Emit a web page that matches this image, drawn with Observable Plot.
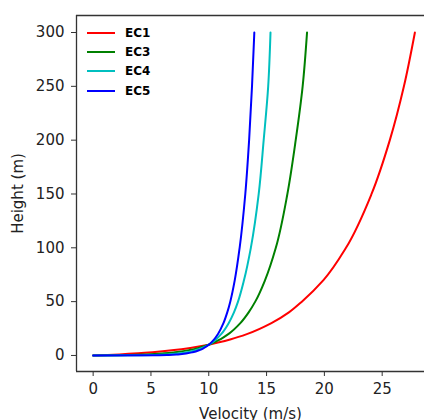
<!DOCTYPE html>
<html><head><meta charset="utf-8">
<script src="https://cdn.jsdelivr.net/npm/d3@7"></script>
<script src="https://cdn.jsdelivr.net/npm/@observablehq/plot@0.6"></script>
<style>
html,body{margin:0;padding:0;background:#fff;}
#wrap{position:relative;width:424px;height:420px;overflow:hidden;}
#legend{position:absolute;left:87px;top:23px;font:bold 12px "DejaVu Sans";color:#000;}
.row{display:flex;align-items:center;height:19.4px;}
.sw{width:28px;height:2px;margin-right:10px;}
</style></head><body><div id="wrap"><div id="legend"></div></div>
<script>
// Heights (m) at which velocities were read
const heights = [0, 0.25, 0.5, 1, 2, 3, 5, 7, 10, 15, 20, 30, 40, 50, 70, 100, 150, 200, 250, 300];
// Velocities (m/s) per series
const ec1 = [0, 0.66, 1.26, 2.28, 3.89, 5.13, 7.00, 8.40, 10.0, 11.92, 13.35, 15.42, 16.93, 18.05, 19.92, 21.87, 24.08, 25.66, 26.88, 27.83];
const ec3 = [0, 2.11, 3.24, 4.60, 6.14, 7.08, 8.31, 9.12, 10.0, 11.00, 11.72, 12.73, 13.45, 14.02, 14.87, 15.80, 16.80, 17.52, 18.12, 18.50];
const ec4 = [0, 4.30, 5.34, 6.40, 7.48, 8.11, 8.91, 9.44, 10.0, 10.63, 11.09, 11.72, 12.18, 12.53, 13.05, 13.64, 14.32, 14.75, 15.14, 15.34];
const ec5 = [0, 5.74, 6.54, 7.34, 8.14, 8.61, 9.20, 9.59, 10.0, 10.47, 10.80, 11.27, 11.60, 11.86, 12.25, 12.67, 13.16, 13.49, 13.74, 13.94];
const seriesNames = ["EC1", "EC3", "EC4", "EC5"];
const seriesValues = [ec1, ec3, ec4, ec5];
const seriesColors = ["#ff0000", "#008000", "#00bfbf", "#0000ff"];
const xTicks = [0, 5, 10, 15, 20, 25];
const yTicks = [0, 50, 100, 150, 200, 250, 300];
const xDomain = [-1.44, 28.66];
const yDomain = [-14.9, 315.8];

const rows = [];
seriesNames.forEach((name, s) => {
  heights.forEach((h, i) => rows.push({series: name, v: seriesValues[s][i], h}));
});

const spine = "#333";
const chart = Plot.plot({
  width: 424,
  height: 420,
  marginLeft: 76,
  marginRight: 0,
  marginTop: 15,
  marginBottom: 49,
  style: {fontFamily: "DejaVu Sans", fontSize: "15px", color: "#222", background: "#fff"},
  x: {domain: xDomain},
  y: {domain: yDomain},
  color: {domain: seriesNames, range: seriesColors},
  marks: [
    Plot.ruleX([xDomain[0]], {stroke: spine, strokeWidth: 1.3}),
    Plot.ruleY([yDomain[0], yDomain[1]], {stroke: spine, strokeWidth: 1.3}),
    Plot.axisX(xTicks, {tickSize: 5, tickPadding: 7, stroke: spine, label: "Velocity (m/s)", labelArrow: "none", labelAnchor: "center", labelOffset: 47}),
    Plot.axisY(yTicks, {tickSize: 5, tickPadding: 7, stroke: spine, label: "Height (m)", labelArrow: "none", labelAnchor: "center", labelOffset: 64}),
    Plot.line(rows, {x: "v", y: "h", stroke: "series", strokeWidth: 2, curve: "monotone-y"})
  ]
});
const wrap = document.getElementById("wrap");
wrap.insertBefore(chart, wrap.firstChild);

const legend = document.getElementById("legend");
seriesNames.forEach((name, i) => {
  const row = document.createElement("div");
  row.className = "row";
  const sw = document.createElement("span");
  sw.className = "sw";
  sw.style.background = seriesColors[i];
  const t = document.createElement("span");
  t.textContent = name;
  row.appendChild(sw);
  row.appendChild(t);
  legend.appendChild(row);
});
</script>
</body></html>
